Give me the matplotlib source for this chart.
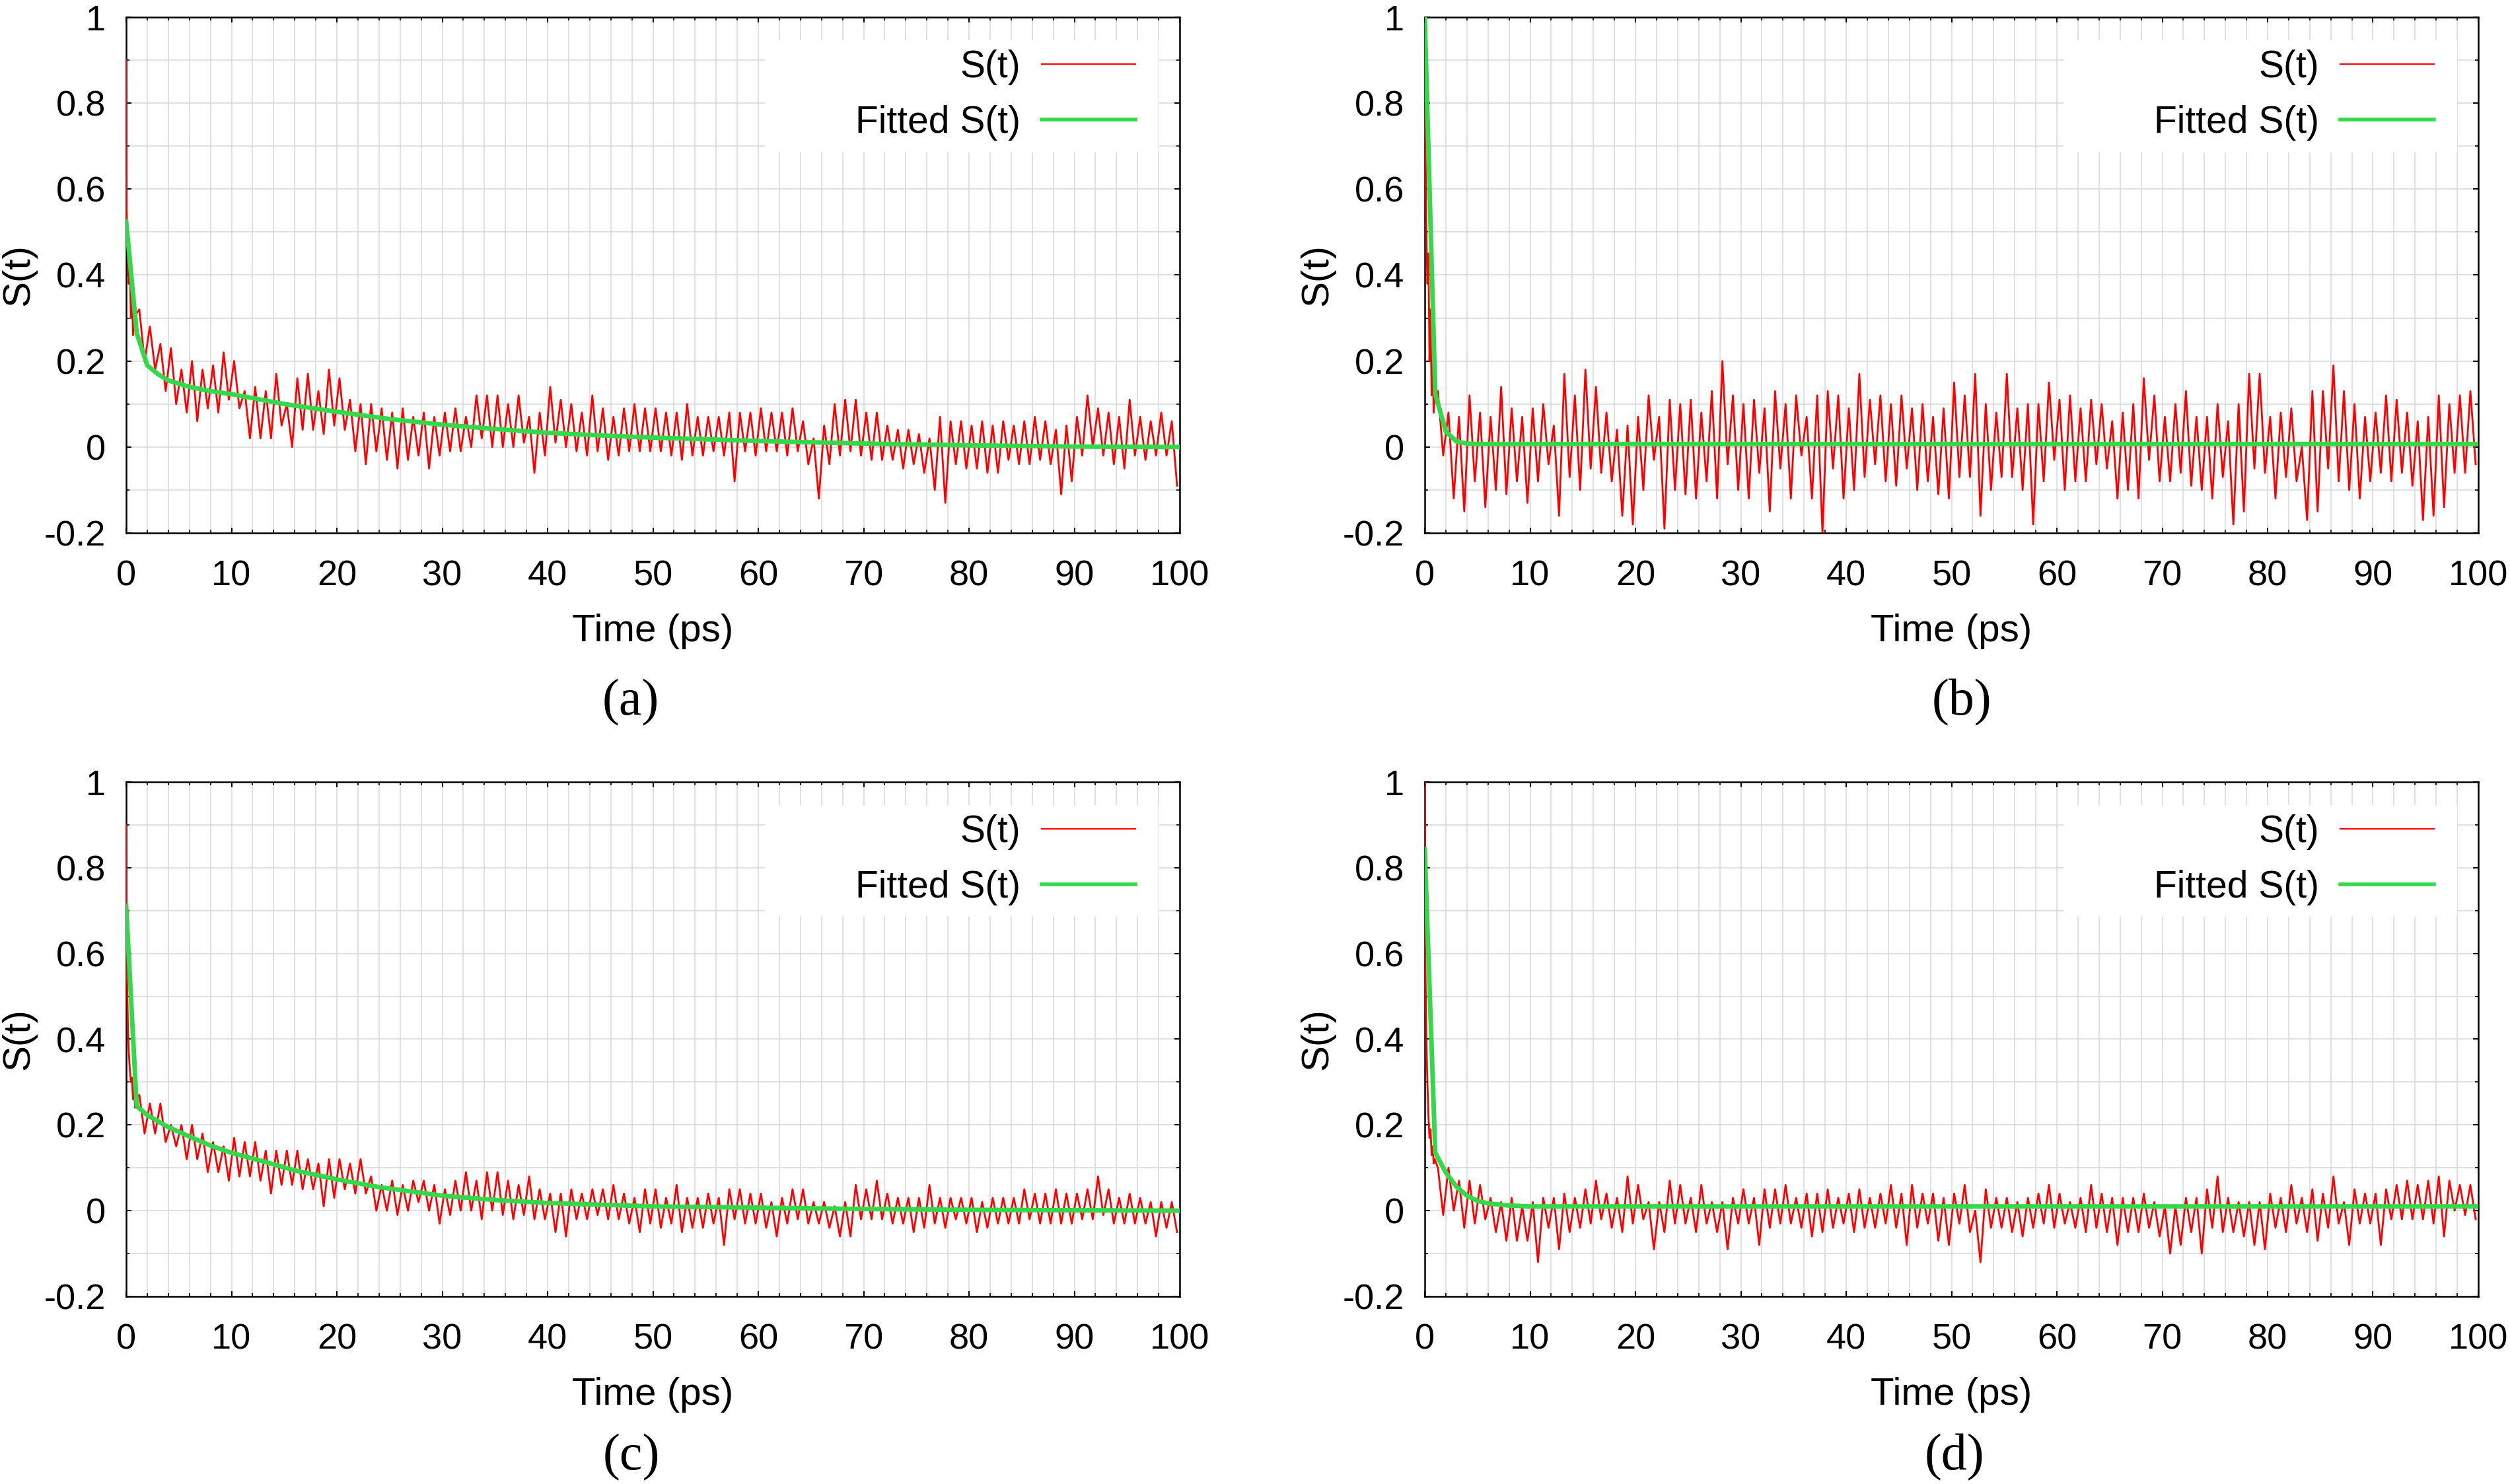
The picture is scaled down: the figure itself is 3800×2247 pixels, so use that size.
import matplotlib
matplotlib.use("Agg")
import matplotlib.pyplot as plt
from matplotlib.patches import Rectangle
from matplotlib.ticker import MultipleLocator, FixedLocator, FixedFormatter

plt.rcParams['font.family'] = ['Liberation Sans', 'DejaVu Sans']
plt.rcParams['axes.unicode_minus'] = False

# ---------------- data ----------------
panel_labels = ['(a)', '(b)', '(c)', '(d)']
x_label = 'Time (ps)'
y_label = 'S(t)'
legend_labels = ['S(t)', 'Fitted S(t)']
x_ticks = [0, 10, 20, 30, 40, 50, 60, 70, 80, 90, 100]
y_ticks = [-0.2, 0, 0.2, 0.4, 0.6, 0.8, 1]
y_tick_labels = ['-0.2', '0', '0.2', '0.4', '0.6', '0.8', '1']

# first picosecond of each raw S(t) trace
head_t = [0, 0.05, 0.15, 0.25, 0.35, 0.45, 0.55, 0.65, 0.75, 0.85, 0.95]
a_head = [0.90, 0.55, 0.45, 0.38, 0.42, 0.30, 0.36, 0.26, 0.33, 0.27, 0.31]
b_head = [1.00, 0.75, 0.50, 0.38, 0.45, 0.20, 0.32, 0.12, 0.20, 0.08, 0.12]
c_head = [0.90, 0.60, 0.45, 0.37, 0.33, 0.30, 0.31, 0.26, 0.28, 0.24, 0.26]
d_head = [1.00, 0.60, 0.40, 0.30, 0.22, 0.17, 0.19, 0.13, 0.15, 0.11, 0.12]

# per-picosecond upper / lower excursions of the raw traces, t = 1..100 ps
a_hi = [0.32, 0.28, 0.24, 0.23, 0.18, 0.20, 0.18, 0.19, 0.22, 0.20,
        0.13, 0.14, 0.13, 0.17, 0.10, 0.16, 0.17, 0.13, 0.18, 0.16,
        0.11, 0.10, 0.10, 0.09, 0.08, 0.09, 0.07, 0.08, 0.07, 0.08,
        0.09, 0.07, 0.12, 0.12, 0.12, 0.10, 0.12, 0.07, 0.08, 0.14,
        0.11, 0.10, 0.08, 0.12, 0.09, 0.07, 0.09, 0.10, 0.09, 0.09,
        0.08, 0.08, 0.10, 0.07, 0.07, 0.07, 0.08, 0.08, 0.08, 0.09,
        0.08, 0.08, 0.09, 0.06, 0.02, 0.05, 0.10, 0.11, 0.11, 0.08,
        0.08, 0.05, 0.04, 0.04, 0.03, 0.02, 0.07, 0.06, 0.06, 0.05,
        0.06, 0.05, 0.06, 0.05, 0.06, 0.07, 0.06, 0.04, 0.05, 0.07,
        0.12, 0.09, 0.08, 0.07, 0.11, 0.07, 0.06, 0.08, 0.06]
a_lo = [0.20, 0.18, 0.13, 0.10, 0.08, 0.06, 0.09, 0.08, 0.11, 0.09,
        0.02, 0.02, 0.02, 0.05, 0.00, 0.04, 0.04, 0.03, 0.05, 0.04,
        -0.01, -0.04, -0.01, -0.03, -0.05, -0.03, -0.02, -0.05, -0.02, -0.01,
        -0.01, 0.00, 0.02, 0.00, 0.00, 0.00, 0.01, -0.06, -0.02, 0.01,
        0.00, -0.01, -0.02, -0.01, -0.03, -0.02, -0.01, -0.01, -0.01, -0.01,
        -0.02, -0.03, -0.02, -0.02, -0.01, -0.02, -0.08, -0.01, -0.02, -0.01,
        -0.01, -0.02, -0.01, -0.04, -0.12, -0.04, -0.02, -0.01, -0.02, -0.03,
        -0.03, -0.03, -0.05, -0.04, -0.06, -0.10, -0.13, -0.04, -0.05, -0.05,
        -0.06, -0.06, -0.03, -0.04, -0.04, -0.03, -0.04, -0.11, -0.08, -0.02,
        0.00, -0.02, -0.04, -0.05, -0.02, -0.03, -0.02, -0.02, -0.09]

b_hi = [0.13, 0.08, 0.07, 0.12, 0.08, 0.07, 0.14, 0.09, 0.07, 0.09,
        0.10, 0.05, 0.17, 0.12, 0.18, 0.14, 0.08, 0.04, 0.05, 0.07,
        0.12, 0.07, 0.11, 0.10, 0.11, 0.08, 0.13, 0.20, 0.12, 0.10,
        0.11, 0.09, 0.13, 0.10, 0.12, 0.07, 0.12, 0.13, 0.12, 0.09,
        0.17, 0.11, 0.12, 0.10, 0.12, 0.09, 0.10, 0.07, 0.09, 0.15,
        0.12, 0.17, 0.10, 0.08, 0.17, 0.09, 0.10, 0.10, 0.15, 0.11,
        0.12, 0.09, 0.11, 0.10, 0.06, 0.08, 0.10, 0.16, 0.12, 0.07,
        0.10, 0.13, 0.07, 0.07, 0.10, 0.06, 0.10, 0.17, 0.17, 0.07,
        0.08, 0.09, 0.00, 0.13, 0.13, 0.19, 0.13, 0.10, 0.07, 0.08,
        0.12, 0.11, 0.08, 0.06, 0.07, 0.12, 0.10, 0.12, 0.13]
b_lo = [-0.02, -0.12, -0.15, -0.08, -0.14, -0.10, -0.11, -0.08, -0.13, -0.08,
        -0.04, -0.16, -0.07, -0.10, -0.05, -0.06, -0.08, -0.16, -0.18, -0.10,
        -0.03, -0.19, -0.10, -0.11, -0.12, -0.08, -0.12, -0.04, -0.10, -0.12,
        -0.06, -0.15, -0.05, -0.12, -0.02, -0.12, -0.20, -0.05, -0.12, -0.10,
        -0.07, -0.04, -0.08, -0.09, -0.05, -0.10, -0.08, -0.11, -0.12, -0.07,
        -0.07, -0.16, -0.10, -0.07, -0.07, -0.10, -0.18, -0.08, -0.03, -0.10,
        -0.08, -0.08, -0.04, -0.05, -0.12, -0.10, -0.12, -0.03, -0.08, -0.08,
        -0.06, -0.09, -0.10, -0.12, -0.07, -0.18, -0.15, -0.05, -0.06, -0.12,
        -0.07, -0.08, -0.17, -0.15, -0.05, -0.08, -0.10, -0.12, -0.08, -0.06,
        -0.08, -0.06, -0.09, -0.17, -0.16, -0.14, -0.06, -0.06, -0.04]

c_hi = [0.27, 0.25, 0.25, 0.20, 0.20, 0.20, 0.18, 0.16, 0.15, 0.17,
        0.16, 0.16, 0.14, 0.14, 0.14, 0.14, 0.12, 0.11, 0.12, 0.12,
        0.11, 0.12, 0.08, 0.06, 0.07, 0.06, 0.07, 0.07, 0.06, 0.05,
        0.07, 0.09, 0.07, 0.09, 0.09, 0.07, 0.06, 0.08, 0.05, 0.04,
        0.04, 0.05, 0.04, 0.05, 0.05, 0.06, 0.04, 0.03, 0.05, 0.05,
        0.03, 0.06, 0.03, 0.03, 0.04, 0.03, 0.05, 0.05, 0.04, 0.04,
        0.02, 0.03, 0.05, 0.05, 0.02, 0.02, 0.01, 0.02, 0.06, 0.05,
        0.07, 0.04, 0.03, 0.03, 0.03, 0.06, 0.03, 0.03, 0.03, 0.03,
        0.02, 0.03, 0.03, 0.03, 0.05, 0.04, 0.04, 0.05, 0.04, 0.04,
        0.05, 0.08, 0.05, 0.03, 0.04, 0.03, 0.02, 0.02, 0.02]
c_lo = [0.18, 0.18, 0.16, 0.15, 0.12, 0.12, 0.09, 0.09, 0.07, 0.08,
        0.08, 0.07, 0.04, 0.06, 0.06, 0.05, 0.05, 0.01, 0.03, 0.05,
        0.04, 0.04, 0.00, 0.00, -0.01, 0.00, 0.02, 0.00, -0.03, -0.01,
        0.00, 0.00, -0.02, 0.00, -0.01, -0.02, -0.01, -0.02, -0.02, -0.05,
        -0.06, -0.02, -0.02, -0.01, -0.02, -0.02, -0.03, -0.05, -0.03, -0.04,
        -0.03, -0.05, -0.04, -0.04, -0.03, -0.08, -0.02, -0.03, -0.03, -0.04,
        -0.06, -0.03, -0.02, -0.03, -0.03, -0.04, -0.06, -0.06, -0.02, -0.02,
        -0.02, -0.03, -0.03, -0.05, -0.04, -0.03, -0.04, -0.02, -0.03, -0.05,
        -0.04, -0.03, -0.03, -0.03, -0.02, -0.03, -0.03, -0.03, -0.03, -0.02,
        -0.02, -0.01, -0.03, -0.03, -0.03, -0.03, -0.06, -0.04, -0.05]

d_hi = [0.10, 0.10, 0.07, 0.07, 0.06, 0.03, 0.02, 0.03, 0.01, 0.02,
        0.03, 0.03, 0.04, 0.03, 0.05, 0.07, 0.04, 0.03, 0.08, 0.06,
        0.02, 0.02, 0.07, 0.06, 0.03, 0.06, 0.02, 0.02, 0.03, 0.05,
        0.03, 0.05, 0.05, 0.06, 0.03, 0.04, 0.04, 0.05, 0.03, 0.04,
        0.05, 0.03, 0.04, 0.06, 0.04, 0.06, 0.04, 0.04, 0.03, 0.04,
        0.06, 0.00, 0.05, 0.03, 0.03, 0.02, 0.03, 0.04, 0.06, 0.04,
        0.02, 0.03, 0.06, 0.04, 0.03, 0.03, 0.03, 0.04, 0.02, 0.01,
        0.01, 0.03, 0.03, 0.05, 0.08, 0.03, 0.02, 0.02, 0.02, 0.04,
        0.03, 0.06, 0.03, 0.05, 0.04, 0.08, 0.02, 0.05, 0.04, 0.04,
        0.05, 0.06, 0.07, 0.06, 0.07, 0.08, 0.07, 0.06, 0.06]
d_lo = [-0.01, 0.00, -0.04, -0.03, -0.02, -0.05, -0.07, -0.07, -0.07, -0.12,
        -0.04, -0.09, -0.05, -0.04, -0.03, -0.02, -0.04, -0.05, -0.03, -0.02,
        -0.09, -0.05, -0.03, -0.03, -0.05, -0.03, -0.05, -0.09, -0.03, -0.03,
        -0.08, -0.04, -0.03, -0.03, -0.04, -0.06, -0.05, -0.04, -0.03, -0.05,
        -0.04, -0.04, -0.03, -0.04, -0.08, -0.04, -0.03, -0.07, -0.08, -0.03,
        -0.05, -0.12, -0.04, -0.04, -0.05, -0.06, -0.04, -0.03, -0.04, -0.03,
        -0.04, -0.05, -0.04, -0.05, -0.08, -0.05, -0.05, -0.04, -0.06, -0.10,
        -0.08, -0.05, -0.10, -0.04, -0.05, -0.05, -0.06, -0.08, -0.09, -0.04,
        -0.05, -0.03, -0.05, -0.07, -0.04, -0.03, -0.08, -0.03, -0.03, -0.08,
        -0.02, -0.02, -0.02, -0.02, -0.03, -0.06, 0.00, -0.01, -0.02]

# fitted curves (read at selected times)
a_fit_t = [0, 1, 2, 3, 4, 6, 8, 10, 15, 20, 25, 30, 35, 40, 45, 50, 60, 70, 80, 90, 100]
a_fit = [0.525, 0.265, 0.19, 0.17, 0.155, 0.14, 0.13, 0.123, 0.10, 0.082, 0.065,
         0.052, 0.042, 0.033, 0.027, 0.022, 0.014, 0.008, 0.004, 0.001, 0.0]
b_fit_t = [0, 1, 2, 3, 4, 5, 100]
b_fit = [1.0, 0.123, 0.036, 0.013, 0.008, 0.007, 0.007]
c_fit_t = [0, 1, 2, 4, 6, 8, 10, 13, 16, 20, 24, 30, 35, 40, 45, 50, 60, 70, 80, 90, 100]
c_fit = [0.711, 0.244, 0.223, 0.195, 0.173, 0.152, 0.135, 0.115, 0.094, 0.073, 0.055,
         0.035, 0.025, 0.018, 0.014, 0.010, 0.007, 0.004, 0.002, 0.001, 0.0]
d_fit_t = [0, 1, 2, 3, 4, 5, 6, 8, 10, 100]
d_fit = [0.843, 0.135, 0.089, 0.056, 0.035, 0.023, 0.017, 0.012, 0.010, 0.010]


def red_series(head_v, hi, lo):
    t = list(head_t)
    v = list(head_v)
    for i, (h, l) in enumerate(zip(hi, lo), start=1):
        t += [i + 0.25, i + 0.75]
        v += [h, l]
    return t, v


panels = [
    (a_head, a_hi, a_lo, a_fit_t, a_fit),
    (b_head, b_hi, b_lo, b_fit_t, b_fit),
    (c_head, c_hi, c_lo, c_fit_t, c_fit),
    (d_head, d_hi, d_lo, d_fit_t, d_fit),
]

# ---------------- layout ----------------
W, H = 3800, 2247
fig = plt.figure(figsize=(W / 100, H / 100), dpi=100)

ax_px = [(191, 26, 1786, 807), (2157, 26, 3752, 807),
         (191, 1184, 1786, 1963), (2157, 1184, 3752, 1963)]
label_px = [(955, 1064), (2970, 1064), (956, 2207), (2959, 2207)]

RED = '#ff0000'
GREEN = '#33d94a'
GRID = '#d3d9d9'

for k, (head_v, hi, lo, ft, fv) in enumerate(panels):
    x0, y0, x1, y1 = ax_px[k]
    ax = fig.add_axes([x0 / W, 1 - y1 / H, (x1 - x0) / W, (y1 - y0) / H])
    t, v = red_series(head_v, hi, lo)
    ln1, = ax.plot(t, v, color=RED, lw=2.0, zorder=3)
    ln2, = ax.plot(ft, fv, color=GREEN, lw=5.0, zorder=4)

    ax.set_xlim(0, 100)
    ax.set_ylim(-0.2, 1.0)
    ax.xaxis.set_major_locator(FixedLocator(x_ticks))
    ax.xaxis.set_minor_locator(MultipleLocator(2))
    ax.yaxis.set_major_locator(FixedLocator(y_ticks))
    ax.yaxis.set_major_formatter(FixedFormatter(y_tick_labels))
    ax.yaxis.set_minor_locator(MultipleLocator(0.1))
    ax.set_axisbelow(True)
    ax.grid(True, which='both', color=GRID, lw=1.1)
    ax.tick_params(which='both', direction='in', top=True, right=True,
                   colors='black', labelsize=39)
    ax.tick_params(which='major', length=6, width=1.5)
    ax.tick_params(which='minor', length=3.5, width=1.2)
    ax.tick_params(axis='x', which='major', pad=29)
    ax.tick_params(axis='y', which='major', pad=22)
    for s in ax.spines.values():
        s.set_linewidth(1.8)

    ax.set_xlabel(x_label, fontsize=42)
    ax.xaxis.set_label_coords(0.5, -0.21)
    ax.xaxis.label.set_va('baseline')
    ax.set_ylabel(y_label, fontsize=42)
    ax.yaxis.set_label_coords(-0.102, 0.5)
    ax.yaxis.label.set_va('center')

    # white legend background (covers grid)
    ax.add_patch(Rectangle((0.606, 0.7375), 0.374, 0.2175, transform=ax.transAxes,
                           facecolor='white', edgecolor='none', zorder=1))
    leg = ax.legend([ln1, ln2], legend_labels, loc='upper right',
                    bbox_to_anchor=(0.958, 0.937), markerfirst=False, frameon=False,
                    fontsize=41, handlelength=2.5, handletextpad=0.55,
                    labelspacing=0.53, borderpad=0, borderaxespad=0)
    leg.get_lines()[0].set_linewidth(1.6)
    leg.get_lines()[1].set_linewidth(4.0)

    lx, ly = label_px[k]
    fig.text(lx / W, 1 - ly / H, panel_labels[k], family=['Liberation Serif', 'DejaVu Serif'],
             fontsize=56, ha='center', va='center')

fig.savefig('out.png', dpi=100)
